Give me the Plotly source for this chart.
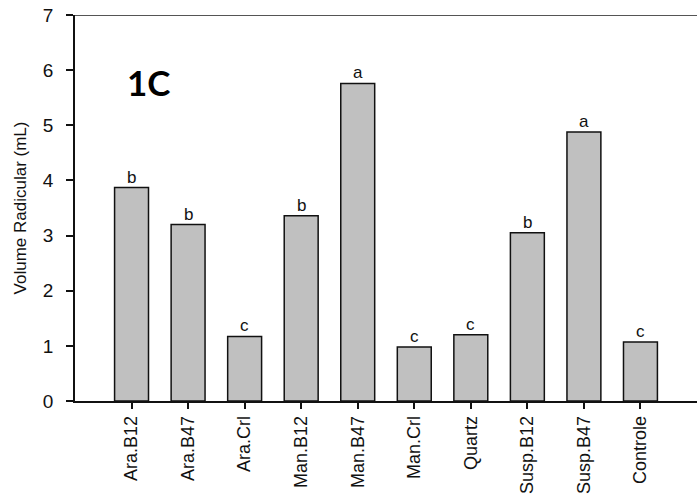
import plotly.graph_objects as go

# Root volume per treatment, with the significance letters
categories = ["Ara.B12", "Ara.B47", "Ara.Crl", "Man.B12", "Man.B47",
              "Man.Crl", "Quartz", "Susp.B12", "Susp.B47", "Controle"]
volumes = [3.87, 3.20, 1.17, 3.36, 5.76, 0.98, 1.20, 3.05, 4.88, 1.07]
letters = ["b", "b", "c", "b", "a", "c", "c", "b", "a", "c"]
y_ticks = [0, 1, 2, 3, 4, 5, 6, 7]

text_font = dict(family="Liberation Sans, Arial, sans-serif", size=17, color="#111")
cat_font = dict(family="Liberation Sans, Arial, sans-serif", size=18, color="#111")
num_font = dict(family="Liberation Sans, Arial, sans-serif", size=19, color="#111")

fig = go.Figure()
fig.add_trace(go.Bar(
    x=list(range(len(categories))),
    y=volumes,
    width=0.6,
    marker=dict(color="#c0c0c0", line=dict(color="#111", width=1.5)),
    showlegend=False,
    hoverinfo="skip",
))

# Significance letters above each bar
for i, (v, lab) in enumerate(zip(volumes, letters)):
    fig.add_annotation(x=i, y=v, text=lab, showarrow=False,
                       yanchor="bottom", yshift=-1, font=text_font)

# Panel label, positioned in pixels relative to the plot area
plot_w = 697 - 75
plot_h = 498 - 15 - 97
fig.add_annotation(x=(148 - 75) / plot_w, y=1 - (82 - 15) / plot_h,
                   xref="paper", yref="paper", text="<b>1C</b>",
                   showarrow=False, font=dict(family="Lato", size=35, color="#000"),
                   xanchor="center", yanchor="middle")

# Top frame line
fig.add_shape(type="line", xref="paper", yref="y", x0=0, x1=1, y0=7, y1=7,
              line=dict(color="#555", width=2))

fig.update_layout(
    width=697, height=498,
    margin=dict(l=75, r=0, t=15, b=97),
    plot_bgcolor="white", paper_bgcolor="white",
    xaxis=dict(
        range=[-1, 10],
        tickmode="array",
        tickvals=list(range(len(categories))),
        ticktext=categories,
        tickangle=-90,
        ticks="outside", ticklen=6, tickwidth=1.5, tickcolor="#111",
        showline=True, linecolor="#111", linewidth=1.5,
        showgrid=False, zeroline=False,
        tickfont=cat_font,
        fixedrange=True,
    ),
    yaxis=dict(
        range=[0, 7],
        tickmode="array",
        tickvals=y_ticks,
        ticks="outside", ticklen=7, tickwidth=1.5, tickcolor="#111",
        showline=True, linecolor="#111", linewidth=1.5,
        showgrid=False, zeroline=False,
        tickfont=num_font,
        ticklabelstandoff=9,
        title=dict(text="Volume Radicular (mL)", font=text_font, standoff=12),
        fixedrange=True,
    ),
)

fig.write_html("out.html")
